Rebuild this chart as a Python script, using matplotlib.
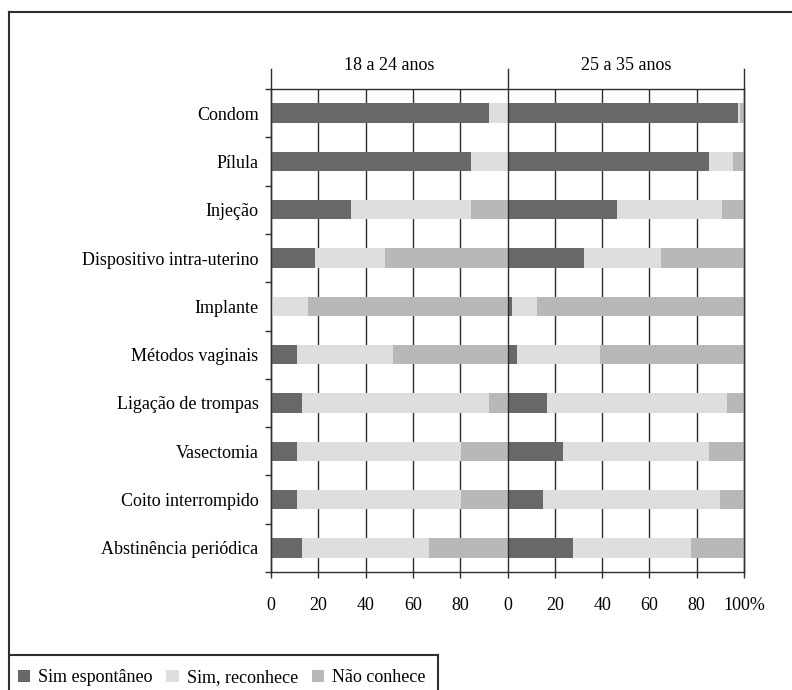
import matplotlib
matplotlib.use("Agg")
import matplotlib.pyplot as plt
from matplotlib.lines import Line2D
from matplotlib.patches import Patch
import numpy as np

# methods, top to bottom
methods = ["Condom", "Pílula", "Injeção", "Dispositivo intra-uterino", "Implante",
           "Métodos vaginais", "Ligação de trompas", "Vasectomia",
           "Coito interrompido", "Abstinência periódica"]
groups = ["18 a 24 anos", "25 a 35 anos"]
series = ["Sim espontâneo", "Sim, reconhece", "Não conhece"]

# percentages, 18 a 24 anos
young_spont = [92, 84.5, 34, 18.5, 0, 11, 13, 11, 11, 13]
young_recog = [8, 15.5, 50.5, 29.5, 15.5, 40.5, 79, 69.5, 69.5, 54]
young_none = [0, 0, 15.5, 52, 84.5, 48.5, 8, 19.5, 19.5, 33]

# percentages, 25 a 35 anos
old_spont = [97.5, 85, 46.5, 32.5, 2, 4, 16.5, 23.5, 15, 27.5]
old_recog = [1, 10.5, 44, 32.5, 10.5, 35, 76.5, 61.5, 75, 50]
old_none = [1.5, 4.5, 9.5, 35, 87.5, 61, 7, 15, 10, 22.5]

tick_vals = [0, 20, 40, 60, 80, 100, 120, 140, 160, 180, 200]
tick_text = ["0", "20", "40", "60", "80", "0", "20", "40", "60", "80", "100%"]

colors = ["#686868", "#dedede", "#b8b8b8"]
line_col = "#2e2e2e"

plt.rcParams["font.family"] = ["Liberation Serif", "DejaVu Serif"]
plt.rcParams["font.size"] = 13

W, H = 792, 690
fig = plt.figure(figsize=(W / 100, H / 100), dpi=100)
ax = fig.add_axes([271 / W, 1 - 572 / H, (744 - 271) / W, (572 - 89) / H])

ypos = np.arange(len(methods)) + 0.5
for offset, parts in [(0, [young_spont, young_recog, young_none]),
                      (100, [old_spont, old_recog, old_none])]:
    left = np.full(len(methods), float(offset))
    for vals, c in zip(parts, colors):
        ax.barh(ypos, vals, left=left, height=0.4, color=c, zorder=3)
        left += np.array(vals)

ax.set_xlim(0, 200)
ax.set_ylim(len(methods), 0)

# grid lines inside each panel
for x in tick_vals[1:-1]:
    if x == 100:
        continue
    ax.axvline(x, color=line_col, lw=1, zorder=1)

# panel borders extend up to the header
for x in [0, 100, 200]:
    ax.add_line(Line2D([x, x], [0, 1 + 20 / 483], transform=ax.get_xaxis_transform(),
                       color=line_col, lw=1, clip_on=False, zorder=4))

for sp in ax.spines.values():
    sp.set_color(line_col)
    sp.set_linewidth(1)

ax.set_xticks(tick_vals)
ax.set_xticklabels(tick_text)
ax.tick_params(axis="x", length=4, width=1, color=line_col, pad=14)

ax.set_yticks(np.arange(len(methods) + 1))
ax.set_yticklabels([])
ax.tick_params(axis="y", which="major", length=4, width=1, color=line_col)
ax.set_yticks(ypos, minor=True)
ax.set_yticklabels(methods, minor=True)
ax.tick_params(axis="y", which="minor", length=0, pad=9)

for i, g in enumerate(groups):
    ax.text(50 + 100 * i, 1 + 23 / 483, g, transform=ax.get_xaxis_transform(),
            ha="center", va="center")

# outer frame and legend box
def fig_line(xs, ys):
    fig.add_artist(Line2D([x / W for x in xs], [1 - y / H for y in ys],
                          transform=fig.transFigure, color=line_col, lw=1.5))

fig_line([9, W], [12, 12])
fig_line([9, 9], [12, H])
fig_line([9, 438], [655, 655])
fig_line([438, 438], [655, H])

handles = [Patch(facecolor=c, edgecolor="none") for c in colors]
fig.legend(handles, series, loc="center left", bbox_to_anchor=(18 / W, 1 - 678 / H),
           ncol=3, frameon=False, fontsize=13, handlelength=0.68, handleheight=0.68,
           handletextpad=0.45, columnspacing=0.75, borderaxespad=0, borderpad=0)

fig.savefig("out.png", dpi=100)
